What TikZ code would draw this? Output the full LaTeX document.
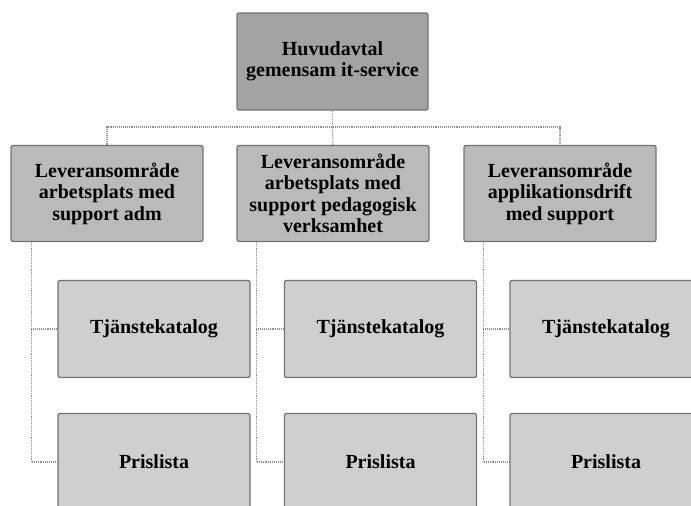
\documentclass[tikz,border=0pt]{standalone}
\usepackage{fontspec}
\setmainfont{Liberation Serif}
\begin{document}
\begin{tikzpicture}[x=1pt,y=1pt,
  box/.style={draw=black!55, line width=1.3pt, rounded corners=2pt, align=center,
    inner sep=2pt, font=\fontsize{20}{21.5}\selectfont\bfseries, text=black},
  topbox/.style={box, fill=black!36, minimum width=191pt, minimum height=97pt},
  midbox/.style={box, fill=black!27, minimum width=192pt, minimum height=96pt},
  lowbox/.style={box, fill=black!19, minimum width=192pt, minimum height=97pt},
  conn/.style={draw=black!45, densely dotted, line width=1.1pt}]
\useasboundingbox (0,0) rectangle (691,-506);
\begin{scope}
\clip (0,0) rectangle (691,-506);
\node[topbox] (top) at (332.5,-61.5) {Huvudavtal\\gemensam it-service};
\node[midbox] (m1) at (107,-193.5) {Leveransområde\\arbetsplats med\\support adm};
\node[midbox] (m2) at (333,-193.5) {Leveransområde\\arbetsplats med\\support pedagogisk\\verksamhet};
\node[midbox] (m3) at (560,-193.5) {Leveransområde\\applikationsdrift\\med support};
\node[lowbox] (t1) at (154,-329) {Tjänstekatalog};
\node[lowbox] (t2) at (380.5,-329) {Tjänstekatalog};
\node[lowbox] (t3) at (606,-329) {Tjänstekatalog};
\node[lowbox] (p1) at (154,-462) {Prislista};
\node[lowbox] (p2) at (380.5,-462) {Prislista};
\node[lowbox] (p3) at (606,-462) {Prislista};
\coordinate (bus) at (332.5,-127);
\draw[conn] (top.south) -- (top.south |- bus) -| (m1.north);
\draw[conn] (top.south |- bus) -| (m3.north);
\draw[conn] (top.south |- bus) -- (m2.north);
\coordinate (d1) at ([xshift=21pt]m1.south west);
\coordinate (d2) at ([xshift=20pt]m2.south west);
\coordinate (d3) at ([xshift=20pt]m3.south west);
\draw[conn] (d1) |- (p1.west);
\draw[conn] (d1) |- (t1.west);
\draw[conn] (d2) |- (p2.west);
\draw[conn] (d2) |- (t2.west);
\draw[conn] (d3) |- (p3.west);
\draw[conn] (d3) |- (t3.west);
\end{scope}
\end{tikzpicture}
\end{document}
